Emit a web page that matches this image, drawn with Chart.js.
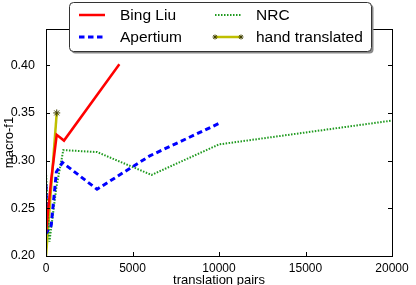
<!DOCTYPE html>
<html lang="en">
  <head>
    <meta charset="UTF-8" />
    <title>macro-f1 vs translation pairs</title>
    <style>
      html, body { margin: 0; padding: 0; background: #fff; }
      #wrap { width: 416px; height: 285px; }
    </style>
  </head>
  <body>
    <div id="wrap"><canvas id="myChart"></canvas></div>

    <script src="https://cdn.jsdelivr.net/npm/chart.js@4/dist/chart.umd.min.js"></script>
    <script>
      // values
      const bingLiuX = [0, 300, 620, 1040, 4240];
      const bingLiuY = [0.225, 0.28, 0.327, 0.321, 0.401];

      const apertiumX = [0, 50, 300, 600, 950, 2950, 6000, 10000];
      const apertiumY = [0.275, 0.225, 0.232, 0.288, 0.298, 0.27, 0.305, 0.339];

      const nrcX = [0, 200, 600, 1000, 2950, 6100, 10000, 20000];
      const nrcY = [0.288, 0.215, 0.272, 0.311, 0.309, 0.285, 0.317, 0.342];

      const handX = [0, 620];
      const handY = [0.2, 0.35];

      const xTicks = [0, 5000, 10000, 15000, 20000];
      const yTicks = [0.2, 0.25, 0.3, 0.35, 0.4];

      const FONT = "'Liberation Sans', Arial, sans-serif";

      function pts(xs, ys) {
        return xs.map((x, i) => ({ x: x, y: ys[i] }));
      }

      // inward ticks on all four sides plus the full box
      const frame = {
        id: "frame",
        afterDatasetsDraw(chart) {
          const { ctx, chartArea: a, scales } = chart;
          ctx.save();
          ctx.strokeStyle = "#000";
          ctx.lineWidth = 1;
          ctx.beginPath();
          xTicks.forEach(v => {
            const px = Math.round(scales.x.getPixelForValue(v)) + 0.5;
            ctx.moveTo(px, a.bottom); ctx.lineTo(px, a.bottom - 4);
            ctx.moveTo(px, a.top); ctx.lineTo(px, a.top + 4);
          });
          yTicks.forEach(v => {
            const py = Math.round(scales.y.getPixelForValue(v)) + 0.5;
            ctx.moveTo(a.left, py); ctx.lineTo(a.left + 4, py);
            ctx.moveTo(a.right, py); ctx.lineTo(a.right - 4, py);
          });
          ctx.stroke();
          ctx.strokeRect(Math.round(a.left) + 0.5, Math.round(a.top) + 0.5,
            Math.round(a.right - a.left), Math.round(a.bottom - a.top));
          ctx.restore();
        }
      };

      // two-column legend box like the original
      const boxLegend = {
        id: "boxLegend",
        afterDraw(chart) {
          const ctx = chart.ctx;
          const bx = 69.5, by = 2.5, bw = 302, bh = 49;
          ctx.save();
          ctx.fillStyle = "#8a8a8a";
          ctx.beginPath();
          ctx.roundRect(bx + 2, by + 2, bw, bh, 4);
          ctx.fill();
          ctx.fillStyle = "#fff";
          ctx.strokeStyle = "#333";
          ctx.lineWidth = 1;
          ctx.beginPath();
          ctx.roundRect(bx, by, bw, bh, 4);
          ctx.fill();
          ctx.stroke();

          const slots = [
            { ds: 0, x: 79, y: 15 },
            { ds: 1, x: 79, y: 37 },
            { ds: 2, x: 215, y: 15 },
            { ds: 3, x: 215, y: 37 }
          ];
          ctx.font = "15.5px " + FONT;
          ctx.textBaseline = "middle";
          slots.forEach(s => {
            const d = chart.data.datasets[s.ds];
            ctx.strokeStyle = d.borderColor;
            ctx.lineWidth = d.borderWidth;
            ctx.setLineDash(d.borderDash || []);
            ctx.beginPath();
            ctx.moveTo(s.x, s.y);
            ctx.lineTo(s.x + 26, s.y);
            ctx.stroke();
            ctx.setLineDash([]);
            if (d.pointStyle === "star") {
              [s.x, s.x + 26].forEach(px => {
                ctx.strokeStyle = "#404000";
                ctx.lineWidth = 1;
                ctx.beginPath();
                for (let k = 0; k < 4; k++) {
                  const ang = k * Math.PI / 4;
                  ctx.moveTo(px - Math.cos(ang) * 2.5, s.y - Math.sin(ang) * 2.5);
                  ctx.lineTo(px + Math.cos(ang) * 2.5, s.y + Math.sin(ang) * 2.5);
                }
                ctx.stroke();
              });
            }
            ctx.fillStyle = "#000";
            ctx.fillText(d.label, s.x + 41, s.y + 1);
          });
          ctx.restore();
        }
      };

      const ctx = document.getElementById("myChart").getContext("2d");
      const chart = new Chart(ctx, {
        type: "line",
        data: {
          datasets: [
            {
              label: "Bing Liu",
              data: pts(bingLiuX, bingLiuY),
              borderColor: "#ff0000",
              borderWidth: 2.5,
              pointRadius: 0
            },
            {
              label: "Apertium",
              data: pts(apertiumX, apertiumY),
              borderColor: "#0000ff",
              borderWidth: 3,
              borderDash: [5.5, 3.5],
              pointRadius: 0
            },
            {
              label: "NRC",
              data: pts(nrcX, nrcY),
              borderColor: "#1f9a1f",
              borderWidth: 2,
              borderDash: [1.5, 1.5],
              pointRadius: 0
            },
            {
              label: "hand translated",
              data: pts(handX, handY),
              borderColor: "#bfbf00",
              borderWidth: 2.5,
              pointStyle: "star",
              pointRadius: [0, 3.5],
              pointBorderColor: "#404000",
              pointBorderWidth: 1
            }
          ]
        },
        options: {
          responsive: true,
          maintainAspectRatio: false,
          animation: false,
          layout: { padding: { top: 29, right: 24, left: 0, bottom: 0 } },
          plugins: { legend: { display: false }, tooltip: { enabled: false } },
          scales: {
            x: {
              type: "linear",
              min: 0,
              max: 20000,
              afterBuildTicks: s => { s.ticks = xTicks.map(v => ({ value: v })); },
              afterFit: s => { s.height = 29; },
              ticks: {
                font: { family: FONT, size: 12 },
                color: "#000",
                padding: -3,
                maxRotation: 0,
                callback: v => String(v)
              },
              grid: { display: false },
              border: { display: false },
              title: {
                display: true,
                text: "translation pairs",
                font: { family: FONT, size: 13 },
                color: "#000",
                padding: { top: 0, bottom: -3 }
              }
            },
            y: {
              min: 0.2,
              max: 0.438,
              afterBuildTicks: s => { s.ticks = yTicks.map(v => ({ value: v })); },
              afterFit: s => { s.width = 46; },
              ticks: {
                font: { family: FONT, size: 12.5 },
                color: "#000",
                padding: 3,
                callback: v => v.toFixed(2)
              },
              grid: { display: false },
              border: { display: false },
              title: {
                display: true,
                text: "macro-f1",
                font: { family: FONT, size: 13 },
                color: "#000",
                padding: { top: 2, bottom: 0 }
              }
            }
          }
        },
        plugins: [frame, boxLegend]
      });
    </script>
  </body>
</html>
